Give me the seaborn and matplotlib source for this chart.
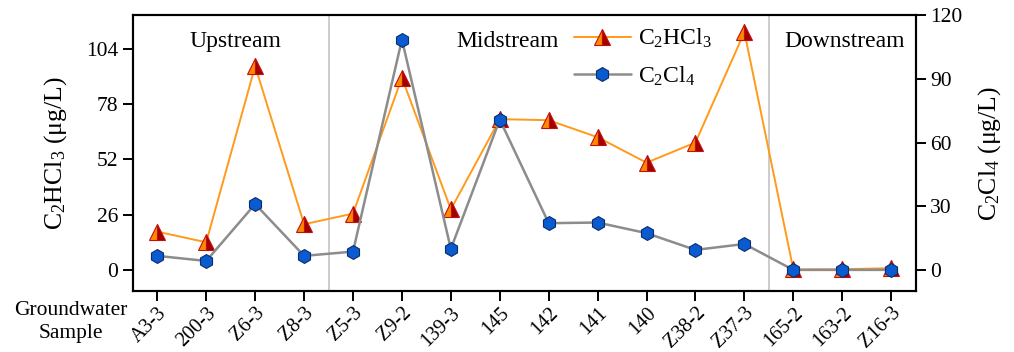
import matplotlib
matplotlib.use("Agg")
import matplotlib.pyplot as plt
import seaborn as sns
import pandas as pd

# Sampling wells along the groundwater flow path
samples = ["A3-3", "200-3", "Z6-3", "Z8-3", "Z5-3", "Z9-2", "139-3", "145",
           "142", "141", "140", "Z38-2", "Z37-3", "165-2", "163-2", "Z16-3"]

# Concentrations (µg/L)
c2hcl3 = [18.0, 13.0, 96.0, 21.5, 26.5, 90.5, 28.5, 71.0,
          70.5, 62.5, 50.5, 60.0, 112.0, 0.2, 0.3, 0.8]
c2cl4 = [6.6, 4.2, 31.0, 6.6, 8.6, 108.5, 9.9, 70.8,
         22.0, 22.3, 17.3, 9.4, 12.2, 0.0, 0.0, 0.0]

zones = ["Upstream", "Midstream", "Downstream"]
zone_centers = [1.59, 7.16, 14.05]
zone_bounds = [3.5, 12.5]

left_ticks = [0, 26, 52, 78, 104]
right_ticks = [0, 30, 60, 90, 120]

df = pd.DataFrame({"sample": samples, "C2HCl3": c2hcl3, "C2Cl4": c2cl4})
df["pos"] = range(len(df))

sns.set_style("ticks")
plt.rcParams["font.family"] = ["Liberation Serif", "DejaVu Serif"]
plt.rcParams["mathtext.fontset"] = "custom"
plt.rcParams["mathtext.rm"] = "Liberation Serif"
plt.rcParams["mathtext.it"] = "Liberation Serif"
plt.rcParams["text.color"] = "black"
plt.rcParams["axes.labelcolor"] = "black"

fig = plt.figure(figsize=(10.14, 3.52), dpi=100)
ax = fig.add_axes([0.131, 0.173, 0.772, 0.784])
ax2 = ax.twinx()

sns.lineplot(data=df, x="pos", y="C2HCl3", ax=ax, sort=False,
             color="#FF9A1A", linewidth=1.4,
             marker="^", markersize=12, fillstyle="left",
             markerfacecolor="#FF8A00", markerfacecoloralt="#A30000",
             markeredgecolor="#C01010", markeredgewidth=0.8,
             label="C$_2$HCl$_3$", legend=False, zorder=3)

sns.lineplot(data=df, x="pos", y="C2Cl4", ax=ax2, sort=False,
             color="#8C8C8C", linewidth=1.8,
             marker="h", markersize=10,
             markerfacecolor="#0A5BCF", markeredgecolor="#0B2D6E",
             markeredgewidth=0.8,
             label="C$_2$Cl$_4$", legend=False, zorder=3)

for b in zone_bounds:
    ax.axvline(b, color="#C8C8C8", linewidth=1.3, zorder=1)

for name, xc in zip(zones, zone_centers):
    ax.text(xc, 0.905, name, transform=ax.get_xaxis_transform(),
            ha="center", va="center", fontsize=17)

ax.set_xlim(-0.5, len(samples) - 0.5)
ax.set_ylim(-10, 120)
ax2.set_ylim(-10, 120)
ax.set_yticks(left_ticks)
ax2.set_yticks(right_ticks)
ax.set_xticks(df["pos"])
ax.set_xticklabels(samples, rotation=45, ha="right", rotation_mode="anchor")

ax.set_xlabel("")
ax.set_ylabel("C$_2$HCl$_3$ (μg/L)", fontsize=18.5, labelpad=12)
ax2.set_ylabel("C$_2$Cl$_4$ (μg/L)", fontsize=18.5, labelpad=10)

for a in (ax, ax2):
    for s in a.spines.values():
        s.set_linewidth(1.5)
        s.set_color("black")
    a.tick_params(axis="both", direction="out", length=7, width=1.4,
                  labelsize=15.5, colors="black")
ax.tick_params(axis="x", pad=2, labelsize=14.5)

fig.text(71 / 1014, 1 - 322 / 352, "Groundwater\nSample", ha="center",
         va="center", fontsize=15.5, linespacing=1.3)

handles = ax.get_lines()[:1] + ax2.get_lines()[:1]
ax2.legend(handles, [h.get_label() for h in handles],
           loc="upper left", bbox_to_anchor=(574 / 1014, 1 - 27 / 352),
           bbox_transform=fig.transFigure, frameon=False, fontsize=17,
           handlelength=2.4, handletextpad=0.3, labelspacing=0.6,
           borderaxespad=0, borderpad=0)

fig.savefig("out.png", dpi=100)
